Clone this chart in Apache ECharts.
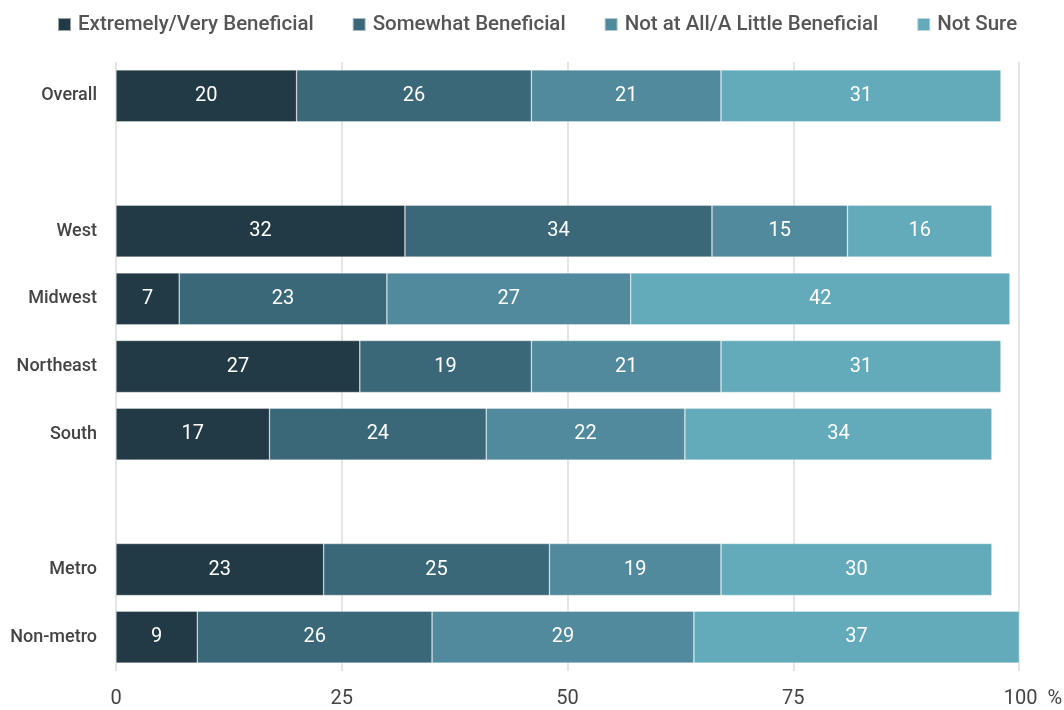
<!DOCTYPE html>
<html><head><meta charset="utf-8">
<script src="https://cdn.jsdelivr.net/npm/echarts@6/dist/echarts.min.js"></script>
<style>html,body{margin:0;padding:0;background:#fff}#c{width:1064px;height:710px}</style>
</head><body><div id="c"></div>
<script>
const categories = ['Overall', ' ', 'West', 'Midwest', 'Northeast', 'South', '  ', 'Metro', 'Non-metro'];
const seriesNames = ['Extremely/Very Beneficial', 'Somewhat Beneficial', 'Not at All/A Little Beneficial', 'Not Sure'];
const extremely = [20, null, 32, 7, 27, 17, null, 23, 9];
const somewhat  = [26, null, 34, 23, 19, 24, null, 25, 26];
const notAtAll  = [21, null, 15, 27, 21, 22, null, 19, 29];
const notSure   = [31, null, 16, 42, 31, 34, null, 30, 37];
const xTicks = [0, 25, 50, 75, 100];
const unit = '%';
const colors = ['#223a45', '#3a6878', '#508a9c', '#63aabb'];

const font = 'Roboto';
const chart = echarts.init(document.getElementById('c'), null, {renderer: 'canvas'});
const values = [extremely, somewhat, notAtAll, notSure];
const tickStyle = {fontSize: 20, color: '#444', fontFamily: font};
chart.setOption({
  animation: false,
  color: colors,
  textStyle: {fontFamily: font},
  legend: {
    top: 9, left: 52,
    itemWidth: 13, itemHeight: 13, itemGap: 38,
    icon: 'rect',
    textStyle: {fontSize: 20.5, color: '#555', fontWeight: 500, fontFamily: font, padding: [0, 0, 0, 2]},
    data: seriesNames
  },
  grid: {left: 116, right: 45, top: 62, bottom: 39, containLabel: false, outerBoundsMode: 'none'},
  xAxis: {
    type: 'value', min: 0, max: 100, interval: 25,
    axisLine: {show: false}, axisTick: {show: false},
    axisLabel: {fontSize: 20, color: '#444', margin: 18, fontFamily: font,
      formatter: v => v === xTicks[xTicks.length - 1]
        ? '{pad|}{t|' + v + '}{gap|}{t|' + unit + '}'
        : (xTicks.includes(v) ? String(v) : ''),
      rich: {
        t: tickStyle,
        pad: {width: 28, fontSize: 20},
        gap: {width: 10, fontSize: 20}
      }
    },
    splitLine: {show: true, lineStyle: {color: '#dcdcdc', width: 1.5}}
  },
  yAxis: {
    type: 'category', data: categories, inverse: true,
    axisLine: {show: false}, axisTick: {show: false},
    axisLabel: {fontSize: 18, color: '#444', fontWeight: 500, margin: 19, fontFamily: font}
  },
  series: seriesNames.map((n, i) => ({
    name: n, type: 'bar', stack: 'total', barWidth: 52,
    data: values[i],
    itemStyle: {borderColor: 'rgba(255,255,255,0.55)', borderWidth: 0.6},
    label: {show: true, position: 'inside', color: '#fff', fontSize: 20, fontFamily: font}
  }))
});
</script></body></html>
